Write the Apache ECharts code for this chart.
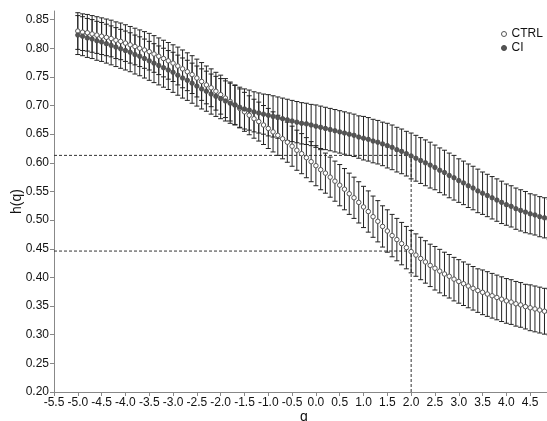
<!DOCTYPE html>
<html>
<head>
<meta charset="utf-8">
<script src="https://cdn.jsdelivr.net/npm/echarts@6/dist/echarts.min.js"></script>
<style>html,body{margin:0;padding:0;background:#fff;}#c{width:547px;height:421px;}</style>
</head>
<body>
<div id="c"></div>
<script>
const q = [
-5.0,-4.9,-4.8,-4.7,-4.6,-4.5,-4.4,-4.3,-4.2,-4.1,
-4.0,-3.9,-3.8,-3.7,-3.6,-3.5,-3.4,-3.3,-3.2,-3.1,
-3.0,-2.9,-2.8,-2.7,-2.6,-2.5,-2.4,-2.3,-2.2,-2.1,
-2.0,-1.9,-1.8,-1.7,-1.6,-1.5,-1.4,-1.3,-1.2,-1.1,
-1.0,-0.9,-0.8,-0.7,-0.6,-0.5,-0.4,-0.3,-0.2,-0.1,
0.0,0.1,0.2,0.3,0.4,0.5,0.6,0.7,0.8,0.9,
1.0,1.1,1.2,1.3,1.4,1.5,1.6,1.7,1.8,1.9,
2.0,2.1,2.2,2.3,2.4,2.5,2.6,2.7,2.8,2.9,
3.0,3.1,3.2,3.3,3.4,3.5,3.6,3.7,3.8,3.9,
4.0,4.1,4.2,4.3,4.4,4.5,4.6,4.7,4.8,4.9,
5.0];
const ctrl = [
0.830,0.828,0.827,0.825,0.823,0.821,0.819,0.817,0.814,0.812,
0.809,0.806,0.803,0.800,0.797,0.794,0.790,0.786,0.782,0.778,
0.774,0.769,0.764,0.759,0.754,0.748,0.742,0.736,0.731,0.725,
0.719,0.713,0.707,0.701,0.695,0.689,0.683,0.677,0.672,0.666,
0.660,0.654,0.648,0.642,0.636,0.629,0.622,0.616,0.609,0.602,
0.595,0.588,0.582,0.575,0.568,0.561,0.554,0.546,0.539,0.531,
0.523,0.515,0.506,0.498,0.489,0.481,0.473,0.466,0.459,0.452,
0.445,0.439,0.433,0.427,0.421,0.416,0.411,0.406,0.402,0.397,
0.393,0.389,0.385,0.381,0.377,0.374,0.371,0.368,0.365,0.362,
0.359,0.357,0.354,0.352,0.349,0.347,0.345,0.343,0.341,0.339,
0.337];
const ci = [
0.823,0.821,0.818,0.816,0.813,0.811,0.808,0.805,0.802,0.799,
0.796,0.793,0.789,0.786,0.782,0.778,0.774,0.770,0.766,0.762,
0.758,0.753,0.748,0.744,0.739,0.734,0.729,0.725,0.720,0.716,
0.712,0.708,0.704,0.701,0.697,0.694,0.692,0.689,0.687,0.685,
0.683,0.681,0.679,0.677,0.675,0.673,0.671,0.669,0.668,0.666,
0.664,0.662,0.660,0.658,0.656,0.654,0.652,0.650,0.648,0.645,
0.643,0.641,0.638,0.636,0.633,0.630,0.627,0.623,0.620,0.616,
0.612,0.608,0.604,0.600,0.596,0.592,0.587,0.583,0.578,0.574,
0.569,0.565,0.560,0.556,0.551,0.547,0.543,0.539,0.535,0.531,
0.527,0.524,0.520,0.517,0.514,0.511,0.509,0.506,0.504,0.501,
0.499];
const ctrlErr = [
0.032,0.032,0.032,0.032,0.032,0.032,0.032,0.032,0.032,0.032,
0.032,0.032,0.032,0.032,0.032,0.032,0.032,0.032,0.032,0.032,
0.032,0.033,0.033,0.033,0.033,0.033,0.033,0.033,0.033,0.033,
0.034,0.034,0.034,0.034,0.034,0.034,0.034,0.034,0.034,0.034,
0.035,0.035,0.035,0.035,0.035,0.035,0.035,0.035,0.035,0.035,
0.035,0.035,0.035,0.035,0.035,0.036,0.036,0.036,0.036,0.036,
0.036,0.036,0.036,0.036,0.036,0.037,0.037,0.037,0.037,0.037,
0.037,0.037,0.037,0.037,0.037,0.038,0.038,0.038,0.038,0.038,
0.038,0.038,0.038,0.038,0.038,0.039,0.039,0.039,0.039,0.039,
0.039,0.039,0.039,0.039,0.039,0.040,0.040,0.040,0.040,0.040,
0.040];
const ciErr = [
0.034,0.034,0.034,0.034,0.034,0.034,0.034,0.034,0.034,0.034,
0.034,0.034,0.034,0.034,0.034,0.034,0.034,0.034,0.034,0.034,
0.035,0.035,0.035,0.035,0.035,0.035,0.035,0.035,0.035,0.035,
0.035,0.035,0.035,0.035,0.035,0.035,0.035,0.035,0.035,0.035,
0.036,0.036,0.036,0.036,0.036,0.036,0.036,0.036,0.036,0.036,
0.037,0.037,0.037,0.037,0.037,0.037,0.037,0.037,0.037,0.037,
0.038,0.038,0.038,0.038,0.038,0.039,0.039,0.039,0.039,0.039,
0.040,0.040,0.040,0.040,0.040,0.039,0.039,0.039,0.039,0.039,
0.038,0.038,0.038,0.038,0.038,0.037,0.037,0.037,0.037,0.037,
0.036,0.036,0.036,0.036,0.036,0.035,0.035,0.035,0.035,0.035,
0.034];
const xTicks = [-5.5,-5.0,-4.5,-4.0,-3.5,-3.0,-2.5,-2.0,-1.5,-1.0,-0.5,0.0,0.5,1.0,1.5,2.0,2.5,3.0,3.5,4.0,4.5];
const yTicks = [0.20,0.25,0.30,0.35,0.40,0.45,0.50,0.55,0.60,0.65,0.70,0.75,0.80,0.85];
const refQ = 2.0;
const refCI = 0.613;
const refCTRL = 0.446;
const seriesNames = ['CTRL','CI'];

const chart = echarts.init(document.getElementById('c'));
const font = 'Liberation Sans, Arial, sans-serif';

function errData(vals, errs){ return q.map((x,i)=>[x, vals[i], errs[i]]); }
function errRender(params, api){
  const x = api.value(0), v = api.value(1), e = api.value(2);
  const top = api.coord([x, v+e]);
  const bot = api.coord([x, v-e]);
  const hw = 2.5;
  const st = {stroke:'#222', lineWidth:1, fill:null};
  return {type:'group', children:[
    {type:'line', shape:{x1:top[0],y1:top[1],x2:bot[0],y2:bot[1]}, style:st},
    {type:'line', shape:{x1:top[0]-hw,y1:top[1],x2:top[0]+hw,y2:top[1]}, style:st},
    {type:'line', shape:{x1:bot[0]-hw,y1:bot[1],x2:bot[0]+hw,y2:bot[1]}, style:st}
  ]};
}

chart.setOption({
  animation:false,
  backgroundColor:'#fff',
  grid:{left:54, right:-7, top:11, bottom:29, containLabel:false, outerBoundsMode:'none'},
  legend:{
    data:seriesNames, orient:'vertical', left:496, top:22, itemWidth:5, itemHeight:5, itemGap:0,
    icon:'circle', textStyle:{fontFamily:font, fontSize:12, color:'#111', lineHeight:14},
    itemStyle:{borderWidth:1}
  },
  xAxis:{
    type:'value', min:-5.5, max:5.0, interval:0.5,
    name:'q', nameLocation:'middle', nameGap:18, nameMoveOverlap:false,
    nameTextStyle:{fontFamily:font, fontSize:14, color:'#111'},
    axisLine:{show:true, onZero:false, lineStyle:{color:'#888', width:1}},
    axisTick:{show:true, length:4, lineStyle:{color:'#888'}, customValues:xTicks},
    axisLabel:{fontFamily:font, fontSize:12, color:'#111', margin:5, customValues:xTicks,
      formatter:v=>Number(v).toFixed(1)},
    splitLine:{show:false}
  },
  yAxis:{
    type:'value', min:0.2, max:0.865,
    name:'h(q)', nameLocation:'middle', nameGap:30, nameMoveOverlap:false,
    nameTextStyle:{fontFamily:font, fontSize:14, color:'#111'},
    axisLine:{show:true, onZero:false, lineStyle:{color:'#888', width:1}},
    axisTick:{show:true, length:4, lineStyle:{color:'#888'}, customValues:yTicks},
    axisLabel:{fontFamily:font, fontSize:12, color:'#111', margin:5, customValues:yTicks,
      formatter:v=>Number(v).toFixed(2)},
    splitLine:{show:false}
  },
  series:[
    {type:'line', name:'refCI', data:[[-5.5,refCI],[refQ,refCI]], symbol:'none', silent:true,
     lineStyle:{color:'#333', width:1, type:[3,2]}, z:1},
    {type:'line', name:'refCTRL', data:[[-5.5,refCTRL],[refQ,refCTRL]], symbol:'none', silent:true,
     lineStyle:{color:'#333', width:1, type:[3,2]}, z:1},
    {type:'line', name:'refQ', data:[[refQ,0.2],[refQ,refCI]], symbol:'none', silent:true,
     lineStyle:{color:'#333', width:1, type:[3,2]}, z:1},
    {type:'custom', name:'ctrlErr', renderItem:errRender, data:errData(ctrl, ctrlErr), z:2, silent:true,
     encode:{x:0, y:1}},
    {type:'custom', name:'ciErr', renderItem:errRender, data:errData(ci, ciErr), z:2, silent:true,
     encode:{x:0, y:1}},
    {type:'scatter', name:'CTRL', data:q.map((x,i)=>[x, ctrl[i]]), symbol:'circle', symbolSize:4.5,
     itemStyle:{color:'#fff', borderColor:'#555', borderWidth:1, opacity:1}, z:4},
    {type:'scatter', name:'CI', data:q.map((x,i)=>[x, ci[i]]), symbol:'circle', symbolSize:4.5,
     itemStyle:{color:'#555', borderColor:'#4a4a4a', borderWidth:0.8, opacity:1}, z:5}
  ]
});
</script>
</body>
</html>
